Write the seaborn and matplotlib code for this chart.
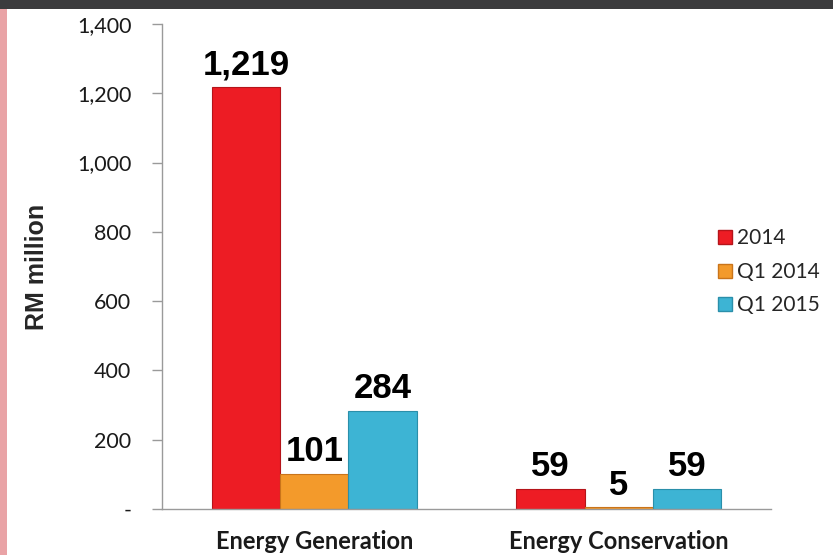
# Bar chart of RM million by segment, recreated with seaborn

import matplotlib
matplotlib.use('Agg')
import matplotlib.pyplot as plt
import matplotlib.patches as mpatches
import pandas as pd
import seaborn as sns

categories = ['Energy Generation', 'Energy Conservation']
periods = ['2014', 'Q1 2014', 'Q1 2015']
values_2014 = [1219, 59]
values_q1_2014 = [101, 5]
values_q1_2015 = [284, 59]
y_ticks = [0, 200, 400, 600, 800, 1000, 1200, 1400]
y_tick_labels = ['-', '200', '400', '600', '800', '1,000', '1,200', '1,400']

colors = ['#ED1C24', '#F39A2B', '#3DB4D4']
edges = ['#B5141A', '#C9741A', '#2A8FAA']

rows = []
for p, vals in zip(periods, [values_2014, values_q1_2014, values_q1_2015]):
    for c, v in zip(categories, vals):
        rows.append({'Category': c, 'Period': p, 'Value': v})
df = pd.DataFrame(rows)

sns.set_style('white')
plt.rcParams['font.family'] = ['Lato', 'DejaVu Sans']
narrow = ['Liberation Sans Narrow', 'Liberation Sans', 'DejaVu Sans']

fig = plt.figure(figsize=(8.33, 5.55), dpi=100)
ax = fig.add_axes([0.1945, 0.0829, 0.7311, 0.8739])

sns.barplot(data=df, x='Category', y='Value', hue='Period', order=categories,
            hue_order=periods, palette=colors, width=0.673, saturation=1,
            ax=ax, legend=False)

for cont, ec in zip(ax.containers, edges):
    for bar in cont:
        bar.set_edgecolor(ec)
        bar.set_linewidth(0.8)
    ax.bar_label(cont, labels=[f'{v:,.0f}' for v in cont.datavalues], padding=4,
                 fontsize=25, fontweight='bold', family=narrow, color='black')

ax.set_xlim(-0.5, 1.5)
ax.set_ylim(0, 1400)
ax.set_yticks(y_ticks)
ax.set_yticklabels(y_tick_labels, fontsize=15.5, color='#1A1A1A')
ax.set_xticks([0, 1])
ax.set_xticklabels(categories, fontsize=17, fontweight='bold', color='#1A1A1A')
ax.tick_params(axis='x', length=0, pad=15)
ax.set_xticks([-0.5, 0.5, 1.5], minor=True)
ax.tick_params(axis='x', which='minor', length=9, color='#9A9A9A', width=1)
ax.tick_params(axis='y', length=7, color='#9A9A9A', width=1, left=True, pad=15)
ax.set_xlabel('')
ax.set_ylabel('RM million', fontsize=18, fontweight='bold', family=narrow,
              labelpad=20)

for s in ['top', 'right']:
    ax.spines[s].set_visible(False)
for s in ['left', 'bottom']:
    ax.spines[s].set_color('#9A9A9A')
    ax.spines[s].set_linewidth(1)

handles = [mpatches.Patch(facecolor=c, edgecolor=e, label=p)
           for c, e, p in zip(colors, edges, periods)]
fig.legend(handles=handles, loc='center left', bbox_to_anchor=(0.862, 0.51),
           frameon=False, borderpad=0, borderaxespad=0, handlelength=0.65,
           handleheight=0.65, handletextpad=0.25, labelspacing=0.65,
           prop={'family': ['Lato'], 'size': 15})

# decorative bands from the slide
fig.patches.append(mpatches.Rectangle((0, 0.984), 1, 0.016, transform=fig.transFigure,
                                      facecolor='#3B3B3D', edgecolor='none', zorder=0))
fig.patches.append(mpatches.Rectangle((0, 0), 0.0085, 0.984, transform=fig.transFigure,
                                      facecolor='#E9A3A6', edgecolor='none', zorder=0))

plt.savefig('out.png', dpi=100)
